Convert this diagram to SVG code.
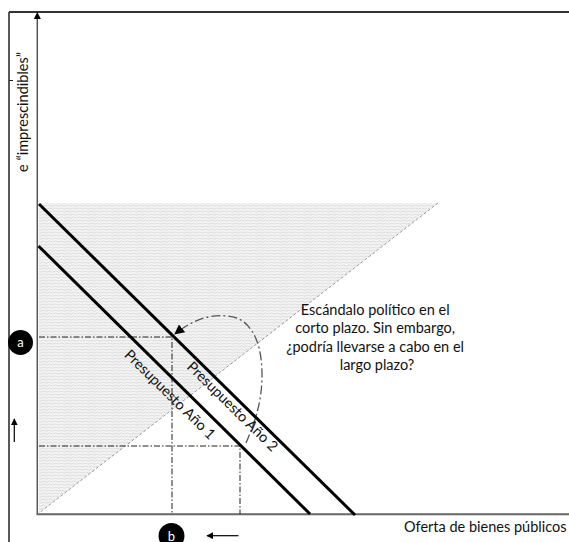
<svg xmlns="http://www.w3.org/2000/svg" width="569" height="542" viewBox="0 0 569 542">
<defs>
<pattern id="wave" width="6" height="3" patternUnits="userSpaceOnUse">
<rect width="6" height="3" fill="#f4f4f4"/>
<path d="M0 1.6 Q1.5 0.4 3 1.6 T6 1.6" fill="none" stroke="#c9c9c9" stroke-width="0.6"/>
</pattern>
<marker id="ah" viewBox="0 0 10 10" refX="9" refY="5" markerWidth="7" markerHeight="7" markerUnits="userSpaceOnUse" orient="auto">
<path d="M0 0 L10 5 L0 10 Z" fill="#000"/>
</marker>
<marker id="ahc" viewBox="0 0 10 10" refX="9" refY="5" markerWidth="10" markerHeight="10" markerUnits="userSpaceOnUse" orient="auto">
<path d="M0 0 L10 5 L0 10 Z" fill="#000"/>
</marker>
</defs>
<style>
text{font-family:Lato,"Open Sans","Liberation Sans",sans-serif;fill:#111;}
.lbl{font-size:14.5px;}
.bud-t{font-size:14.5px;text-anchor:middle;}
.bud{stroke:#000;stroke-width:3;fill:none;}
.guide{stroke:#222;stroke-width:1;stroke-dasharray:6 2 1.5 2;fill:none;}
.badge{fill:#000;}
.badge-t{fill:#fff;font-size:13px;text-anchor:middle;}
</style>

<g id="frame">
<line x1="9" y1="12" x2="569" y2="12" stroke="#333" stroke-width="2"/>
<line x1="9" y1="12" x2="9" y2="542" stroke="#222" stroke-width="1.5"/>
<line x1="9" y1="80.5" x2="13" y2="80.5" stroke="#222" stroke-width="1"/>
</g>

<g id="region">
<path d="M39 203 L438 203 L39 513 Z" fill="url(#wave)"/>
<line x1="438" y1="203" x2="39" y2="513" stroke="#999" stroke-width="1" stroke-dasharray="3 2"/>
</g>

<g id="axes">
<line x1="37.3" y1="514" x2="37.3" y2="18" stroke="#555" stroke-width="1.5"/>
<path d="M33.8 19 L37.3 12 L40.8 19 Z" fill="#000"/>
<line x1="36.5" y1="514.3" x2="569" y2="514.3" stroke="#666" stroke-width="2"/>
<text class="lbl" transform="translate(27.5,112) rotate(-90)" text-anchor="middle">e “imprescindibles”</text>
<text class="lbl" x="404" y="532">Oferta de bienes públicos</text>
</g>

<g id="connectors">
<polyline class="guide" points="39,337 172,337 172,514"/>
<polyline class="guide" points="39,446 240,446 240,514"/>
<path d="M246 443 C256 420 262 400 262 375 C262 340 250 318 228 316 C206 314 190 322 175 334" fill="none" stroke="#555" stroke-width="1.3" stroke-dasharray="9 3 2 3" marker-end="url(#ahc)"/>
<line x1="14.3" y1="442" x2="14.3" y2="419" stroke="#000" stroke-width="1.2" marker-end="url(#ah)"/>
<line x1="238.5" y1="535.7" x2="207" y2="535.7" stroke="#000" stroke-width="1.2" marker-end="url(#ah)"/>
</g>

<g id="budget1">
<line class="bud" x1="38.5" y1="246" x2="310" y2="514"/>
<text class="bud-t" transform="translate(166.5,398) rotate(44.6)">Presupuesto Año 1</text>
</g>

<g id="budget2">
<line class="bud" x1="39" y1="204" x2="355" y2="515"/>
<text class="bud-t" transform="translate(229,410) rotate(44.6)">Presupuesto Año 2</text>
</g>

<g id="marker-a">
<circle class="badge" cx="20.5" cy="342.5" r="12.5"/>
<text class="badge-t" x="20.5" y="347">a</text>
</g>

<g id="marker-b">
<circle class="badge" cx="171.5" cy="536" r="13"/>
<text class="badge-t" x="171.5" y="540.5">b</text>
</g>

<g id="note">
<text class="lbl" text-anchor="middle">
<tspan x="377" y="315">Escándalo político en el</tspan>
<tspan x="377" y="333.3">corto plazo. Sin embargo,</tspan>
<tspan x="377" y="351.7">¿podría llevarse a cabo en el</tspan>
<tspan x="377" y="370">largo plazo?</tspan>
</text>
</g>
</svg>
